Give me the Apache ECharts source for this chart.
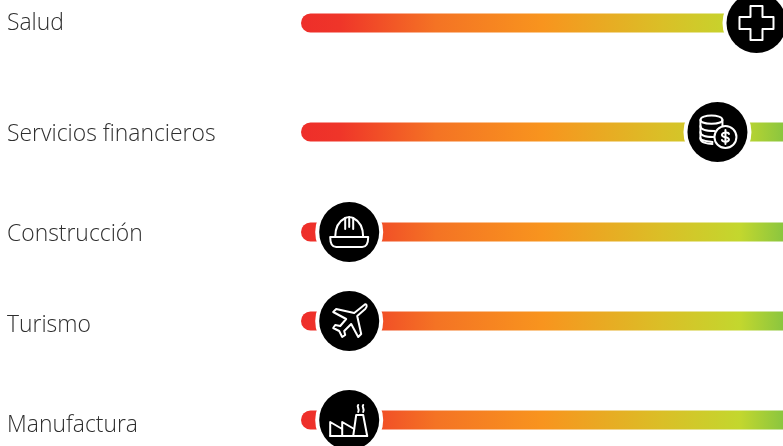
<!DOCTYPE html>
<html><head><meta charset="utf-8">
<style>html,body{margin:0;padding:0;background:#fff}#c{width:783px;height:446px}</style>
<script src="https://cdn.jsdelivr.net/npm/echarts@6/dist/echarts.min.js"></script>
</head><body><div id="c"></div>
<script>
var categories = ['Salud','Servicios financieros','Construcción','Turismo','Manufactura'];
var scores = [94.5, 86.4, 10, 10, 10];
var rowCenters = [23, 132, 232, 321, 420];
var labelCenters = [23, 134, 234, 325, 425];
var iconKinds = ['cross','coins','helmet','plane','factory'];

var ICONS = {
  cross: ['M-6 -17H6V-6H17V6H6V17H-6V6H-17V-6H-6Z'],
  coins: ['M-17 -12C-17 -18 5 -18 5 -12C5 -7 -17 -7 -17 -12Z',
          'M-17 -12V7C-17 10 -11 12 -5 12','M5 -12V-6',
          'M-17 -6C-17 -2 -9 -1 -3 -1','M-17 0C-17 4 -10 5 -4 5','M-17 6C-17 9 -11 9 -5 10',
          'M19 5A11 11 0 1 1 -3 5A11 11 0 1 1 19 5Z',
          'M11.5 2C11 0 4.5 0 4.5 3C4.5 6 11.5 4.5 11.5 7.5C11.5 10.5 5 10 4.5 8','M8 -2V12'],
  helmet: ['M-14 5C-14 -3 -12 -10 -4 -14C-2 -15 2 -15 4 -14C12 -10 14 -3 14 5',
           'M-19 5H19C19 11 17 15 13 15H-13C-17 15 -19 11 -19 5Z',
           'M-4 -14V-3','M4 -14V-3','M0 -15V-5'],
  plane: ['M15 -16C17 -18 19 -15 16 -12L8 -5L12 13L9 16L2 3L-5 10L-4 14L-7 16L-10 10L-16 7L-14 4L-9 5L-3 -2L-16 -9L-13 -12L5 -8L15 -16Z'],
  factory: ['M-19 16V2L-7 9V2L5 9','M-19 16H18','M-7 9V16','M4 16L7 -5H14L18 16',
            'M9 -15C7 -13 11 -11 9 -8','M14 -15C12 -13 16 -11 14 -8']
};
var barStops = [
  {offset:0,color:'#ee2e2a'},{offset:0.08,color:'#ef3529'},{offset:0.28,color:'#f47324'},
  {offset:0.5,color:'#f8941e'},{offset:0.75,color:'#dabf27'},{offset:0.91,color:'#c3d72e'},{offset:1,color:'#8bc63f'}
];

function renderRow(params, api){
  var i = params.dataIndex;
  var start = api.coord([0, api.value(1)]);
  var end = api.coord([100, api.value(1)]);
  var mark = api.coord([api.value(0), api.value(1)]);
  var labelPt = api.coord([0, labelCenters[i]]);
  var kids = [
    {type:'rect',shape:{x:start[0],y:start[1]-9.5,width:end[0]-start[0],height:19,r:[9.5,0,0,9.5]},
     style:{fill:{type:'linear',x:0,y:0,x2:1,y2:0,colorStops:barStops}}},
    {type:'circle',shape:{cx:mark[0],cy:mark[1],r:34},style:{fill:'#fff'}},
    {type:'circle',shape:{cx:mark[0],cy:mark[1],r:30},style:{fill:'#000'}},
    {type:'text',style:{x:7,y:labelPt[1],text:categories[i],fill:'#2e2e2e',
      font:'300 22.9px "Open Sans"',textAlign:'left',textVerticalAlign:'middle'}}
  ];
  ICONS[iconKinds[i]].forEach(function(d){
    kids.push({type:'path',x:mark[0],y:mark[1],shape:{pathData:d},
      style:{fill:null,stroke:'#fff',lineWidth:2,lineJoin:'round',lineCap:'round'}});
  });
  return {type:'group',children:kids};
}
var chart = echarts.init(document.getElementById('c'),null,{renderer:'canvas'});
chart.setOption({
  animation:false,
  grid:{left:301,right:0,top:0,bottom:0},
  xAxis:{type:'value',min:0,max:100,show:false},
  yAxis:{type:'value',min:0,max:446,inverse:true,show:false},
  series:[{type:'custom',clip:false,renderItem:renderRow,coordinateSystem:'cartesian2d',
    encode:{x:0,y:1},
    data:scores.map(function(s,i){return [s,rowCenters[i]];})}]
});
</script></body></html>
